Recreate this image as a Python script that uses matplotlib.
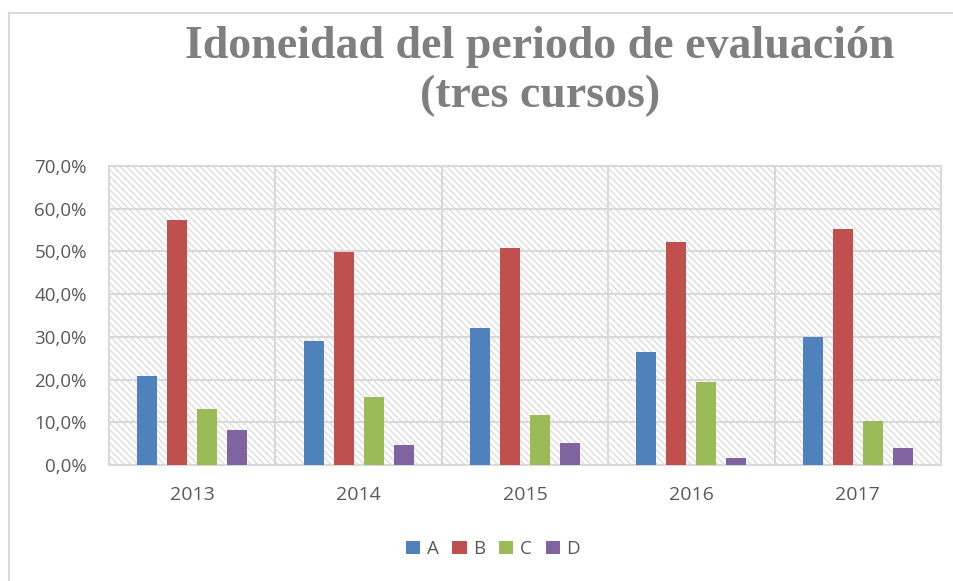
import numpy as np
import matplotlib
matplotlib.use('Agg')
import matplotlib.pyplot as plt
from matplotlib.lines import Line2D
from matplotlib.ticker import FuncFormatter

years = ['2013', '2014', '2015', '2016', '2017']
series = ['A', 'B', 'C', 'D']
vals_a = [20.9, 29.0, 32.1, 26.5, 30.0]
vals_b = [57.4, 49.9, 50.8, 52.2, 55.2]
vals_c = [13.2, 16.0, 11.8, 19.4, 10.4]
vals_d = [8.3, 4.7, 5.2, 1.6, 3.9]
colors = ['#4f81bd', '#c0504d', '#9bbb59', '#8064a2']

grid_col = '#d9d9d9'
txt_col = '#595959'

plt.rcParams['hatch.linewidth'] = 1.0
plt.rcParams['hatch.color'] = '#dcdcdc'

fig = plt.figure(figsize=(9.54, 5.81), dpi=100)
ax = fig.add_axes([109/954, 1-465/581, (941-109)/954, (465-166)/581])

# hatched plot area
ax.patch.set_facecolor('white')
ax.patch.set_hatch('\\' * 5)
ax.patch.set_edgecolor('#dcdcdc')

x = np.arange(len(years))
w = 0.12
step = 0.18
for i, (name, v) in enumerate(zip(series, [vals_a, vals_b, vals_c, vals_d])):
    ax.bar(x + (i - 1.5) * step, v, w, color=colors[i], label=name, zorder=3)

ax.set_xlim(-0.5, 4.5)
ax.set_ylim(0, 70)
ax.set_yticks(np.arange(0, 71, 10))
ax.yaxis.set_major_formatter(FuncFormatter(lambda v, p: f'{v:.1f}%'.replace('.', ',')))
ax.set_xticks(x)
ax.set_xticklabels(years)
ax.set_xticks(np.arange(-0.5, 4.6, 1), minor=True)
ax.grid(True, axis='y', color=grid_col, lw=1.5, zorder=1)
ax.grid(True, axis='x', which='minor', color=grid_col, lw=1.5, zorder=1)
ax.tick_params(which='both', length=0)
ax.tick_params(axis='y', pad=16, labelsize=13.5, labelcolor=txt_col)
ax.tick_params(axis='x', pad=15, labelsize=14, labelcolor=txt_col)
for lab in ax.get_xticklabels() + ax.get_yticklabels():
    lab.set_family('Open Sans')
for s in ax.spines.values():
    s.set_color(grid_col)
    s.set_linewidth(1.5)

leg = fig.legend(loc='center', bbox_to_anchor=(493/954, 1-549/581), ncol=4, frameon=False,
                 handlelength=0.75, handleheight=0.75, handletextpad=0.35, columnspacing=0.75,
                 prop={'family': 'Open Sans', 'size': 13.5})
for t in leg.get_texts():
    t.set_color(txt_col)

fig.text(540/954, 1-47/581, 'Idoneidad del periodo de evaluación', ha='center', va='center',
         fontsize=33, fontweight='bold', family='Liberation Serif', color='#7f7f7f')
fig.text(540/954, 1-96/581, '(tres cursos)', ha='center', va='center',
         fontsize=33, fontweight='bold', family='Liberation Serif', color='#7f7f7f')

# outer chart border (left and top)
fig.add_artist(Line2D([9.5/954, 9.5/954], [0, 1-12.5/581], color=grid_col, lw=1.5))
fig.add_artist(Line2D([9.5/954, 1], [1-12.5/581, 1-12.5/581], color=grid_col, lw=1.5))

fig.savefig('out.png', dpi=100)
